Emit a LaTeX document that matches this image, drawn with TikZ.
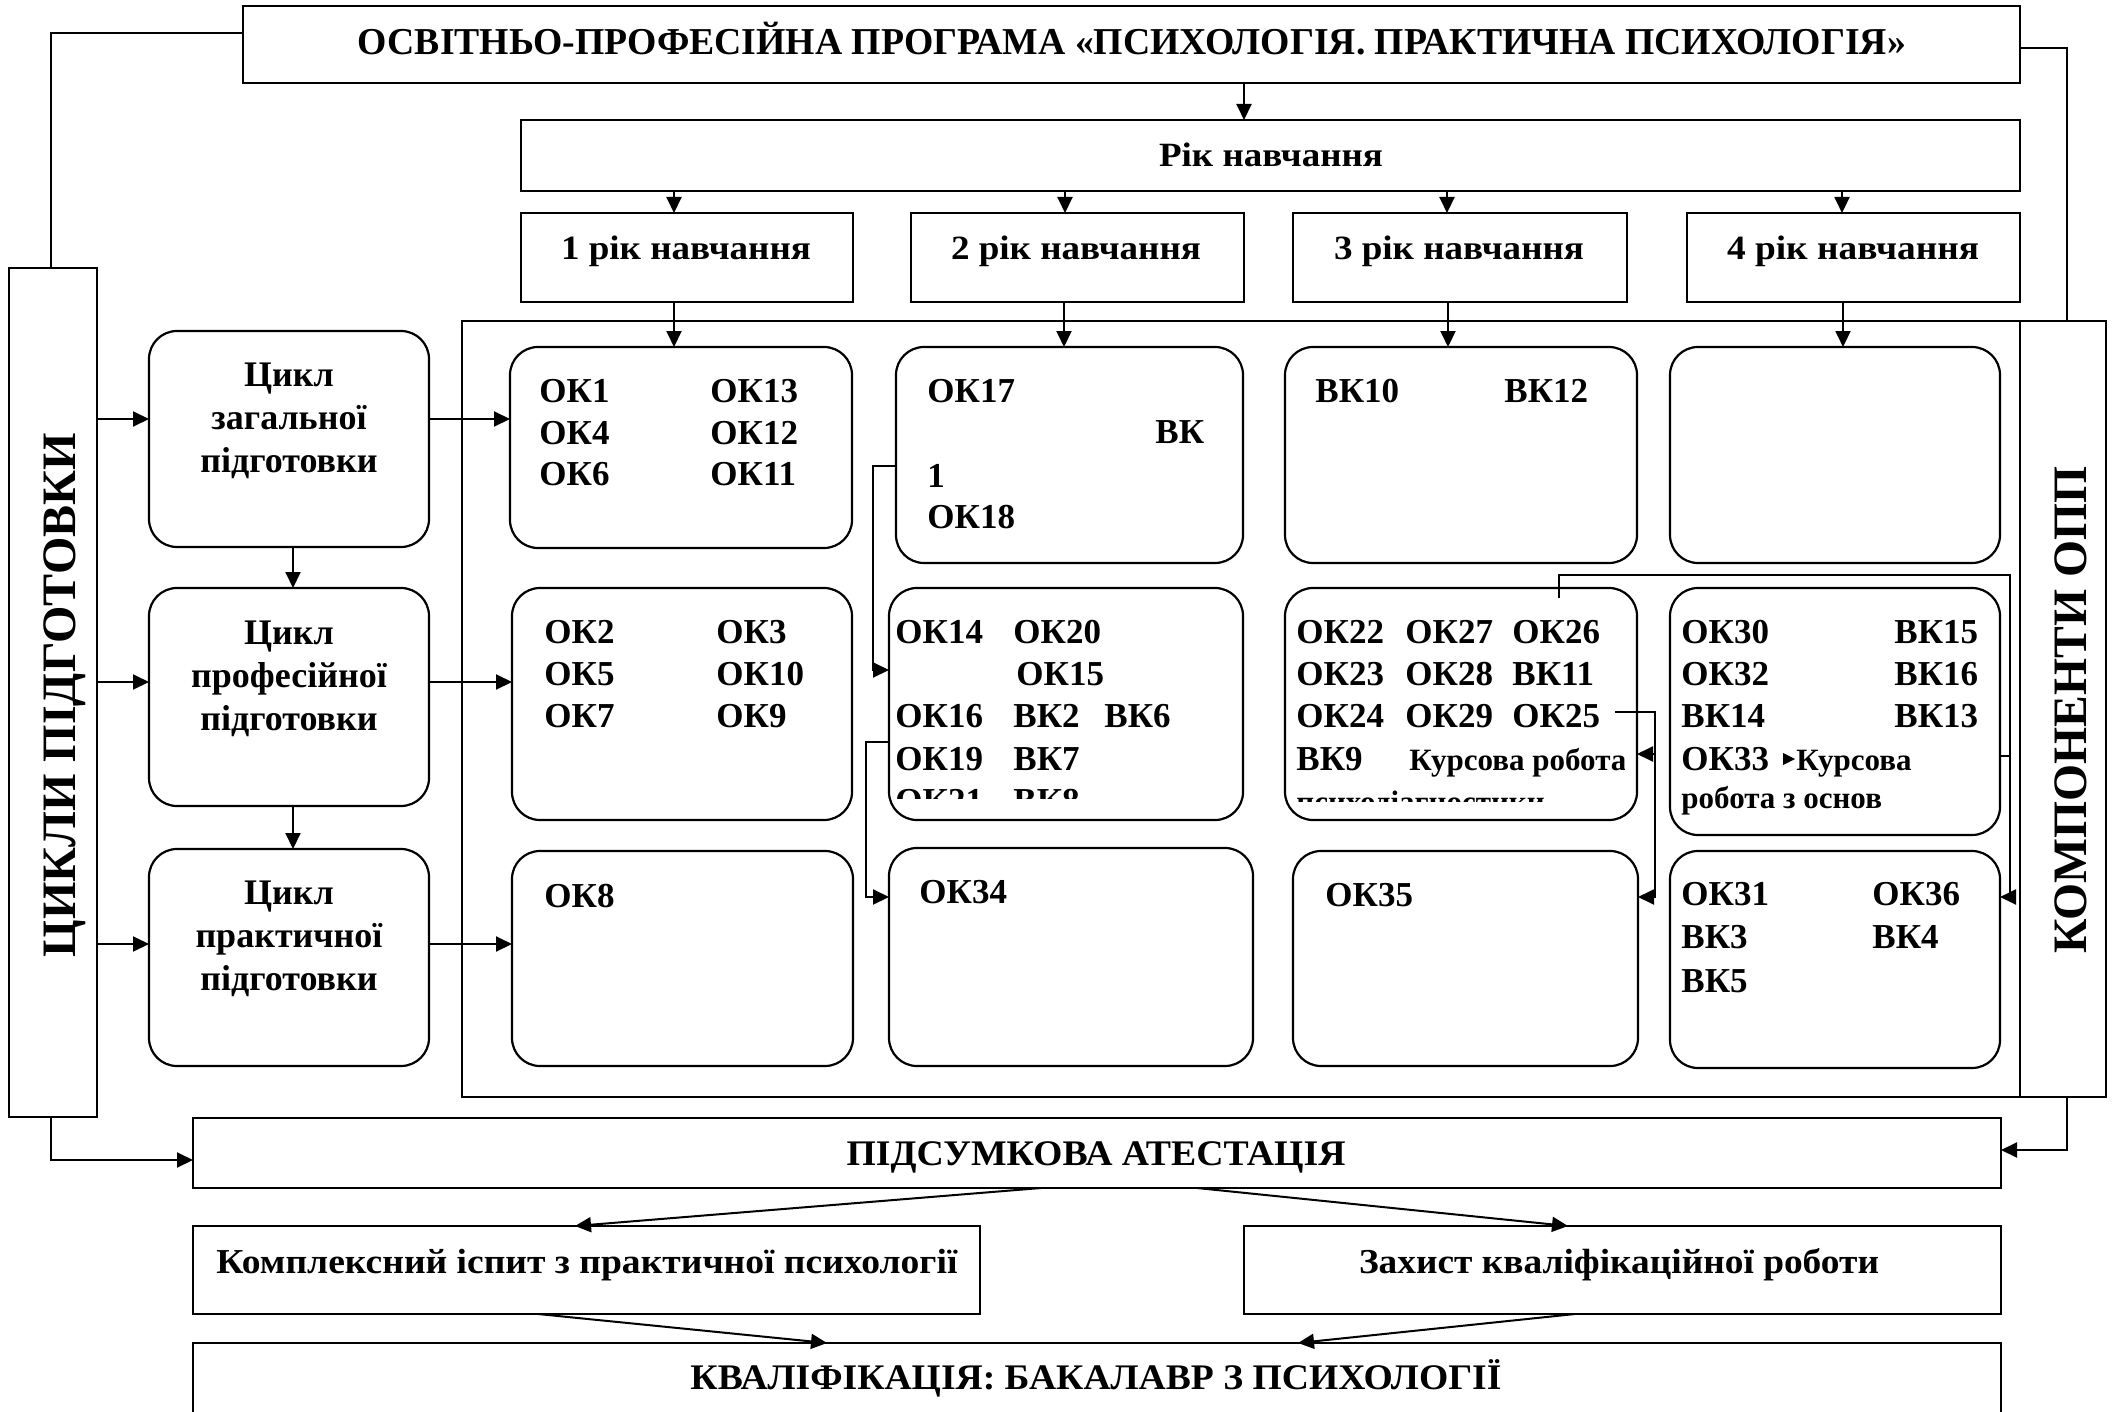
\documentclass[tikz,border=0pt]{standalone}
\usepackage{fontspec}
\setmainfont{Liberation Serif}
\usepackage{graphicx}
\usetikzlibrary{arrows.meta,fit,backgrounds}
\newcommand{\fitw}[2]{\resizebox{#1}{\height}{#2}}
\newcommand{\fsz}[1]{\fontsize{#1}{#1}\selectfont\bfseries}
\begin{document}
\begin{tikzpicture}[x=0.5pt,y=-0.5pt,
  box/.style={draw, line width=1.1pt, fill=white, inner sep=0pt, outer sep=0pt},
  rbox/.style={box, rounded corners=14pt},
  conn/.style={line width=1pt},
  arr/.style={conn, -{Triangle[length=8pt,width=7.5pt]}},
  ok/.style={anchor=base west, inner sep=0pt, font=\fsz{17.5pt}},
  sm/.style={anchor=base west, inner sep=0pt, font=\fsz{15.5pt}},
  ctr/.style={anchor=base, inner sep=0pt},
  cyc/.style={anchor=base, inner sep=0pt, font=\fsz{18pt}}]
\useasboundingbox (0,0) rectangle (2120,1412);
\clip (0,0) rectangle (2120,1412);

% ---------- boxes ----------
\node[box, fit={(243,6) (2020,83)}] (prog) {};
\node[box, fit={(521,120) (2020,191)}] (rik) {};
\node[box, fit={(521,213) (853,302)}] (y1) {};
\node[box, fit={(911,213) (1244,302)}] (y2) {};
\node[box, fit={(1293,213) (1627,302)}] (y3) {};
\node[box, fit={(1687,213) (2020,302)}] (y4) {};
\node[box, fit={(9,268) (97,1117)}] (cykly) {};
\node[box, fit={(462,321) (2020,1097)}] (outer) {};
\node[box, fit={(2020,321) (2106,1097)}] (komp) {};

\node[rbox, fit={(149,331) (429,547)}] (cz) {};
\node[rbox, fit={(149,588) (429,806)}] (cp) {};
\node[rbox, fit={(149,849) (429,1066)}] (cr) {};

\node[rbox, fit={(510,347) (852,548)}] (a1) {};
\node[rbox, fit={(896,347) (1243,563)}] (b1) {};
\node[rbox, fit={(1285,347) (1637,563)}] (c1) {};
\node[rbox, fit={(1670,347) (2000,563)}] (d1) {};
\node[rbox, fit={(512,588) (852,820)}] (a2) {};
\node[rbox, fit={(889,588) (1243,820)}] (b2) {};
\node[rbox, fit={(1285,588) (1637,820)}] (c2) {};
\node[rbox, fit={(1670,588) (2000,835)}] (d2) {};
\node[rbox, fit={(512,851) (853,1066)}] (a3) {};
\node[rbox, fit={(889,848) (1253,1066)}] (b3) {};
\node[rbox, fit={(1293,851) (1638,1066)}] (c3) {};
\node[rbox, fit={(1670,851) (2000,1068)}] (d3) {};

\node[box, fit={(193,1118) (2001,1188)}] (pids) {};
\node[box, fit={(193,1226) (980,1314)}] (kompl) {};
\node[box, fit={(1244,1226) (2001,1314)}] (zakh) {};
\node[box, fit={(193,1343) (2001,1440)}] (kval) {};

% ---------- texts ----------
\node[ctr, font=\fsz{19pt}] (tprog) at (1132,55) {\fitw{774pt}{ОСВІТНЬО-ПРОФЕСІЙНА ПРОГРАМА «ПСИХОЛОГІЯ. ПРАКТИЧНА ПСИХОЛОГІЯ»}};
\node[ctr, font=\fsz{17pt}] (trik) at (1271,167) {\fitw{112pt}{Рік навчання}};
\node[ctr, font=\fsz{17pt}] (ty1) at (686,260) {\fitw{125pt}{1 рік навчання}};
\node[ctr, font=\fsz{17pt}] (ty2) at (1076,260) {\fitw{125pt}{2 рік навчання}};
\node[ctr, font=\fsz{17pt}] (ty3) at (1459,260) {\fitw{125pt}{3 рік навчання}};
\node[ctr, font=\fsz{17pt}] (ty4) at (1853,260) {\fitw{126pt}{4 рік навчання}};

\node[rotate=90, ctr, font=\fsz{24pt}] (tcykly) at (75,695) {\fitw{262pt}{ЦИКЛИ ПІДГОТОВКИ}};
\node[rotate=90, ctr, font=\fsz{24pt}] (tkomp) at (2086,710) {\fitw{243.5pt}{КОМПОНЕНТИ ОПП}};

\node[cyc] (tcz1) at (289,386) {Цикл};
\node[cyc] (tcz2) at (289,429) {загальної};
\node[cyc] (tcz3) at (289,472) {підготовки};
\node[cyc] (tcp1) at (289,644) {Цикл};
\node[cyc] (tcp2) at (289,687) {професійної};
\node[cyc] (tcp3) at (289,730) {підготовки};
\node[cyc] (tcr1) at (289,904) {Цикл};
\node[cyc] (tcr2) at (289,947) {практичної};
\node[cyc] (tcr3) at (289,990) {підготовки};

% column 1
\node[ok] (ok1) at (539,402) {ОК1};
\node[ok] (ok4) at (539,444) {ОК4};
\node[ok] (ok6) at (539,485) {ОК6};
\node[ok] (ok13) at (710,402) {ОК13};
\node[ok] (ok12) at (710,444) {ОК12};
\node[ok] (ok11) at (710,485) {ОК11};
\node[ok] (ok2) at (544,643) {ОК2};
\node[ok] (ok5) at (544,685) {ОК5};
\node[ok] (ok7) at (544,727) {ОК7};
\node[ok] (ok3) at (716,643) {ОК3};
\node[ok] (ok10) at (716,685) {ОК10};
\node[ok] (ok9) at (716,727) {ОК9};
\node[ok] (ok8) at (544,907) {ОК8};

% column 2
\node[ok] (ok17) at (927,402) {ОК17};
\node[ok] (vk1a) at (1155,443) {ВК};
\node[ok] (vk1b) at (927,487) {1};
\node[ok] (ok18) at (927,528) {ОК18};
\begin{scope}
\clip (889,588) rectangle (1243,798);
\node[ok] (ok14) at (895,643) {ОК14};
\node[ok] (ok20) at (1013,643) {ОК20};
\node[ok] (ok15) at (1016,685) {ОК15};
\node[ok] (ok16) at (895,727) {ОК16};
\node[ok] (vk2) at (1013,727) {ВК2};
\node[ok] (vk6) at (1104,727) {ВК6};
\node[ok] (ok19) at (895,770) {ОК19};
\node[ok] (vk7) at (1013,770) {ВК7};
\node[ok] (ok21) at (895,812) {ОК21};
\node[ok] (vk8) at (1013,812) {ВК8};
\end{scope}
\node[ok] (ok34) at (919,903) {ОК34};

% column 3
\node[ok] (vk10) at (1315,402) {ВК10};
\node[ok] (vk12) at (1504,402) {ВК12};
\begin{scope}
\clip (1285,588) rectangle (1624,801);
\node[ok] (ok22) at (1296,643) {ОК22};
\node[ok] (ok27) at (1405,643) {ОК27};
\node[ok] (ok26) at (1512,643) {ОК26};
\node[ok] (ok23) at (1296,685) {ОК23};
\node[ok] (ok28) at (1405,685) {ОК28};
\node[ok] (vk11) at (1512,685) {ВК11};
\node[ok] (ok24) at (1296,727) {ОК24};
\node[ok] (ok29) at (1405,727) {ОК29};
\node[ok] (ok25) at (1512,727) {ОК25};
\node[ok] (vk9) at (1296,770) {ВК9};
\node[sm] (kr1) at (1409,770) {Курсова робота};
\node[sm] (kr1b) at (1296,812) {психодіагностики};
\end{scope}
\node[ok] (ok35) at (1325,906) {ОК35};

% column 4
\node[ok] (ok30) at (1681,643) {ОК30};
\node[ok] (vk15) at (1894,643) {ВК15};
\node[ok] (ok32) at (1681,685) {ОК32};
\node[ok] (vk16) at (1894,685) {ВК16};
\node[ok] (vk14) at (1681,727) {ВК14};
\node[ok] (vk13) at (1894,727) {ВК13};
\node[ok] (ok33) at (1681,770) {ОК33};
\node[sm] (kr2) at (1796,770) {Курсова};
\node[sm] (kr2b) at (1681,808) {робота з основ};
\node[ok] (ok31) at (1681,905) {ОК31};
\node[ok] (ok36) at (1872,905) {ОК36};
\node[ok] (vk3) at (1681,948) {ВК3};
\node[ok] (vk4) at (1872,948) {ВК4};
\node[ok] (vk5) at (1681,992) {ВК5};

% bottom texts
\node[ctr, font=\fsz{18pt}] (tpids) at (1096,1165) {\fitw{249.5pt}{ПІДСУМКОВА АТЕСТАЦІЯ}};
\node[ctr, font=\fsz{17.5pt}] (tkompl) at (587,1273) {\fitw{370.5pt}{Комплексний іспит з практичної психології}};
\node[ctr, font=\fsz{17.5pt}] (tzakh) at (1619,1273) {\fitw{260pt}{Захист кваліфікаційної роботи}};
\node[ctr, font=\fsz{18pt}] (tkval) at (1096,1389) {\fitw{405.5pt}{КВАЛІФІКАЦІЯ: БАКАЛАВР З ПСИХОЛОГІЇ}};

% ---------- connectors ----------
\begin{scope}[on background layer]
\draw[arr] (prog.east |- 0,48) -- (2067,48) -- (2067,1150) -- (pids.east |- 0,1150);
\end{scope}
\draw[conn] (prog.west |- 0,33) -- (51,33) -- (51,0 |- cykly.north);
\draw[arr] (51,0 |- cykly.south) -- (51,1160) -- (pids.west |- 0,1160);

\draw[arr] (1244,0 |- prog.south) -- (1244,0 |- rik.north);
\draw[arr] (674,0 |- rik.south) -- (674,0 |- y1.north);
\draw[arr] (1065,0 |- rik.south) -- (1065,0 |- y2.north);
\draw[arr] (1447,0 |- rik.south) -- (1447,0 |- y3.north);
\draw[arr] (1842,0 |- rik.south) -- (1842,0 |- y4.north);
\draw[arr] (674,0 |- y1.south) -- (674,0 |- a1.north);
\draw[arr] (1064,0 |- y2.south) -- (1064,0 |- b1.north);
\draw[arr] (1448,0 |- y3.south) -- (1448,0 |- c1.north);
\draw[arr] (1843,0 |- y4.south) -- (1843,0 |- d1.north);

\draw[arr] (cykly.east |- 0,419) -- (cz.west |- 0,419);
\draw[arr] (cykly.east |- 0,682) -- (cp.west |- 0,682);
\draw[arr] (cykly.east |- 0,944) -- (cr.west |- 0,944);
\draw[arr] (293,0 |- cz.south) -- (293,0 |- cp.north);
\draw[arr] (293,0 |- cp.south) -- (293,0 |- cr.north);
\draw[arr] (cz.east |- 0,419) -- (a1.west |- 0,419);
\draw[arr] (cp.east |- 0,682) -- (a2.west |- 0,682);
\draw[arr] (cr.east |- 0,944) -- (a3.west |- 0,944);

\draw[arr] (b1.west |- 0,466) -- (873,466) -- (873,670) -- (b2.west |- 0,670);
\draw[arr] (b2.west |- 0,742) -- (866,742) -- (866,897) -- (b3.west |- 0,897);

\coordinate (k1) at (1559,598);
\draw[arr] (k1) -- (1559,575) -- (2010,575) -- (2010,897) -- (d3.east |- 0,897);
\draw[conn] (2010,756) -- (d2.east |- 0,756);
\fill (1783,753) -- (1795,759) -- (1783,765) -- cycle;

\coordinate (k2) at (1615,712);
\draw[arr] (k2) -- (1655,712) -- (1655,897) -- (c3.east |- 0,897);
\draw[arr] (1655,754) -- (c2.east |- 0,754);

\draw[arr] (1041,0 |- pids.south) -- (575,0 |- kompl.north);
\draw[arr] (1197,0 |- pids.south) -- (1568,0 |- zakh.north);
\draw[arr] (538,0 |- kompl.south) -- (827,0 |- kval.north);
\draw[arr] (1575,0 |- zakh.south) -- (1298,0 |- kval.north);
\end{tikzpicture}
\end{document}
